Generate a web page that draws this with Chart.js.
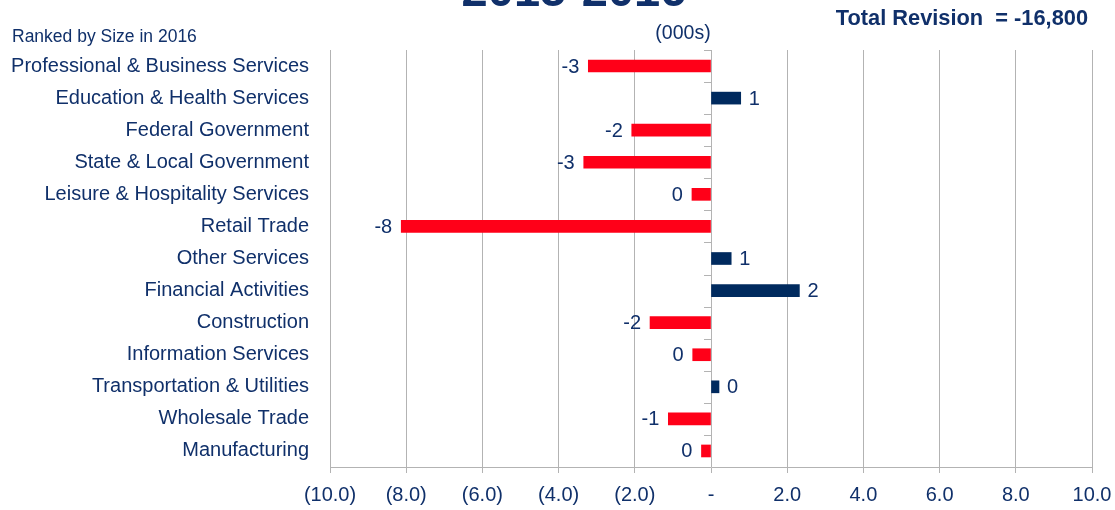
<!DOCTYPE html>
<html>
<head>
<meta charset="utf-8">
<script src="https://cdn.jsdelivr.net/npm/chart.js@4/dist/chart.umd.min.js"></script>
<style>
  html, body { margin: 0; padding: 0; background: #ffffff; }
  #wrap { position: relative; width: 1115px; height: 510px; }
</style>
</head>
<body>
<div id="wrap"><canvas id="c" width="1115" height="510"></canvas></div>
<script>
// ---- Data ----
const categories = [
  "Professional & Business Services",
  "Education & Health Services",
  "Federal Government",
  "State & Local Government",
  "Leisure & Hospitality Services",
  "Retail Trade",
  "Other Services",
  "Financial Activities",
  "Construction",
  "Information Services",
  "Transportation & Utilities",
  "Wholesale Trade",
  "Manufacturing"
];
const revisionValues = [-3.22, 0.78, -2.08, -3.34, -0.50, -8.13, 0.53, 2.32, -1.60, -0.48, 0.21, -1.12, -0.25];
const valueLabels = ["-3", "1", "-2", "-3", "0", "-8", "1", "2", "-2", "0", "0", "-1", "0"];
const xTickValues = [-10, -8, -6, -4, -2, 0, 2, 4, 6, 8, 10];
const xTickLabels = ["(10.0)", "(8.0)", "(6.0)", "(4.0)", "(2.0)", "-", "2.0", "4.0", "6.0", "8.0", "10.0"];
const titleText = "2015-2016";
const subtitleLeft = "Ranked by Size in 2016";
const unitsText = "(000s)";
const totalText = "Total Revision  = -16,800";

// ---- Style ----
const NAVY_TEXT = "#10306a";
const NAVY_BAR = "#002a5e";
const RED_BAR = "#ff0018";
const GRID = "#b3b3b3";
const FONT = "'Liberation Sans', Arial, sans-serif";

const annotate = {
  id: "annotate",
  afterDatasetsDraw(chart) {
    const ctx = chart.ctx;
    const area = chart.chartArea;
    const xs = chart.scales.x;
    const zeroX = xs.getPixelForValue(0);
    // category tick marks on zero axis
    ctx.save();
    ctx.strokeStyle = GRID;
    ctx.lineWidth = 1;
    const n = categories.length;
    for (let i = 0; i <= n; i++) {
      const y = Math.round(area.top + i * (area.bottom - area.top) / n) + 0.5;
      ctx.beginPath();
      ctx.moveTo(zeroX - 7, y);
      ctx.lineTo(zeroX, y);
      ctx.stroke();
    }
    // data labels
    const meta = chart.getDatasetMeta(0);
    ctx.fillStyle = NAVY_TEXT;
    ctx.font = "20px " + FONT;
    ctx.textBaseline = "middle";
    meta.data.forEach((el, i) => {
      const v = revisionValues[i];
      if (v < 0) {
        ctx.textAlign = "right";
        ctx.fillText(valueLabels[i], el.x - 9, el.y + 1);
      } else {
        ctx.textAlign = "left";
        ctx.fillText(valueLabels[i], el.x + 8, el.y + 1);
      }
    });
    // texts
    ctx.textBaseline = "alphabetic";
    ctx.textAlign = "center";
    ctx.font = "bold 47px " + FONT;
    ctx.fillText(titleText, 574, 6);
    ctx.textAlign = "left";
    ctx.font = "17.5px " + FONT;
    ctx.fillText(subtitleLeft, 12, 42);
    ctx.textAlign = "center";
    ctx.font = "19.5px " + FONT;
    ctx.fillText(unitsText, 683, 39);
    ctx.textAlign = "right";
    ctx.font = "bold 21.8px " + FONT;
    ctx.fillText(totalText, 1088, 25);
    ctx.restore();
  }
};

new Chart(document.getElementById("c"), {
  type: "bar",
  data: {
    labels: categories,
    datasets: [{
      data: revisionValues,
      backgroundColor: revisionValues.map(v => v < 0 ? RED_BAR : NAVY_BAR),
      barThickness: 12
    }]
  },
  options: {
    indexAxis: "y",
    responsive: false,
    animation: false,
    devicePixelRatio: 1,
    layout: { padding: { top: 50, right: 23, left: 0, bottom: 0 } },
    plugins: { legend: { display: false }, tooltip: { enabled: false } },
    scales: {
      x: {
        min: -10, max: 10,
        afterBuildTicks(scale) { scale.ticks = xTickValues.map(v => ({ value: v })); },
        afterFit(scale) { scale.height = 43; scale.paddingLeft = 0; scale.paddingRight = 0; },
        grid: { color: GRID, lineWidth: 1, tickLength: 6, drawTicks: true },
        border: { color: GRID },
        ticks: {
          color: NAVY_TEXT,
          font: { family: FONT, size: 20 },
          padding: 10,
          maxRotation: 0,
          autoSkip: false,
          callback: (v, i) => xTickLabels[i]
        }
      },
      y: {
        afterFit(scale) { scale.width = 330; },
        grid: { display: false, drawTicks: false },
        border: { display: false },
        ticks: {
          color: NAVY_TEXT,
          font: { family: FONT, size: 20 },
          padding: 21,
          autoSkip: false
        }
      }
    }
  },
  plugins: [annotate]
});
</script>
</body>
</html>
